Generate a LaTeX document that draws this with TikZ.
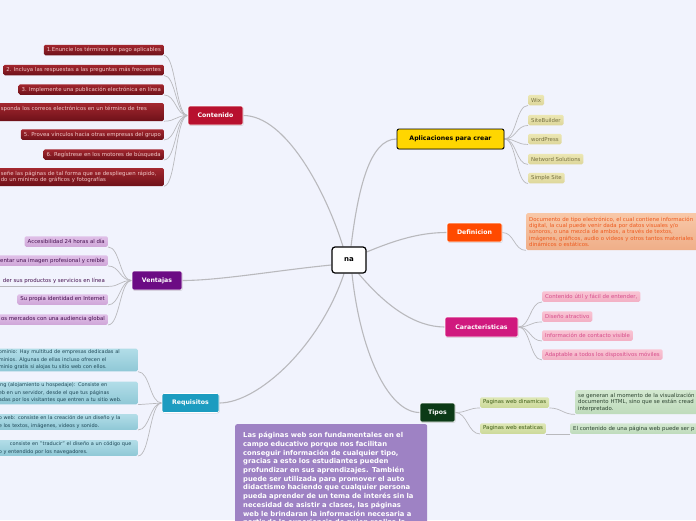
\documentclass[tikz,border=0pt]{standalone}
\usepackage{fontspec}
\setmainfont{DejaVu Sans}
\usetikzlibrary{shadows}
\pgfdeclarelayer{back}
\pgfdeclarelayer{links}
\pgfsetlayers{back,links,main}
\definecolor{mapbg}{HTML}{F1F3FD}
\definecolor{linkgray}{HTML}{B9B9BD}
\definecolor{contred}{HTML}{B8102E}
\definecolor{conttop}{HTML}{A3272F}
\definecolor{contbot}{HTML}{6E1119}
\definecolor{conttxt}{HTML}{F2C9C9}
\definecolor{ventpur}{HTML}{6C0C84}
\definecolor{venttop}{HTML}{E0C0E8}
\definecolor{ventbot}{HTML}{CFA6D8}
\definecolor{venttxt}{HTML}{45104F}
\definecolor{reqblue}{HTML}{1C9CC0}
\definecolor{reqtop}{HTML}{B2DDE8}
\definecolor{reqbot}{HTML}{8FC8D6}
\definecolor{reqtxt}{HTML}{1E4756}
\definecolor{aplyel}{HTML}{FFD600}
\definecolor{apltop}{HTML}{ECE7B4}
\definecolor{aplbot}{HTML}{DDD69A}
\definecolor{apltxt}{HTML}{777141}
\definecolor{deforg}{HTML}{FF4A00}
\definecolor{deftop}{HTML}{F8C8A8}
\definecolor{defbot}{HTML}{EFAE88}
\definecolor{deftxt}{HTML}{EE5A1E}
\definecolor{carmag}{HTML}{D0197E}
\definecolor{cartop}{HTML}{F9C4D4}
\definecolor{carbot}{HTML}{F2AFC4}
\definecolor{cartxt}{HTML}{D74E8C}
\definecolor{tipgrn}{HTML}{0C3A17}
\definecolor{tiptop}{HTML}{DEE7B6}
\definecolor{tipbot}{HTML}{CCD99A}
\definecolor{tiptxt}{HTML}{3D5C14}
\definecolor{subtop}{HTML}{D3E8D0}
\definecolor{subbot}{HTML}{BEDBBB}
\definecolor{subtxt}{HTML}{2C4330}
\definecolor{notepur}{HTML}{9E82C4}

\begin{document}
\begin{tikzpicture}[
  x=1pt, y=-1pt,
  line cap=round, line join=round,
  hub/.style   = {draw=black, line width=1.2pt, fill=white, rounded corners=3pt,
                  minimum width=34pt, minimum height=26pt, inner sep=1pt,
                  font=\bfseries\fontsize{7}{8}\selectfont},
  topic/.style = {rounded corners=2pt, draw=white, line width=0.6pt,
                  minimum height=19pt, inner xsep=4pt, inner ysep=1pt, text=white,
                  font=\bfseries\fontsize{6.2}{7}\selectfont,
                  drop shadow={shadow xshift=0.6pt, shadow yshift=-0.8pt, opacity=0.3}},
  leaf/.style  = {rounded corners=1.5pt, minimum height=10.5pt, inner xsep=3pt,
                  inner ysep=1.5pt, font=\fontsize{5.4}{6.4}\selectfont, align=left},
  cleaf/.style = {leaf, top color=conttop, bottom color=contbot, text=conttxt},
  vleaf/.style = {leaf, top color=venttop, bottom color=ventbot, text=venttxt},
  rleaf/.style = {leaf, top color=reqtop, bottom color=reqbot, text=reqtxt,
                  font=\fontsize{5}{7.5}\selectfont},
  aleaf/.style = {leaf, top color=apltop, bottom color=aplbot, text=apltxt},
  dleaf/.style = {leaf, top color=deftop, bottom color=defbot, text=deftxt},
  kleaf/.style = {leaf, top color=cartop, bottom color=carbot, text=cartxt},
  tleaf/.style = {leaf, top color=tiptop, bottom color=tipbot, text=tiptxt},
  sleaf/.style = {leaf, top color=subtop, bottom color=subbot, text=subtxt},
  note/.style  = {fill=notepur, rounded corners=2pt, text=white, align=left,
                  inner xsep=8pt, inner ysep=5pt,
                  font=\bfseries\fontsize{6.8}{8.7}\selectfont},
  link/.style  = {draw=linkgray, line width=1.1pt},
  twig/.style  = {draw=linkgray, line width=0.7pt}
]
\useasboundingbox (0,0) rectangle (696,520);
\begin{pgfonlayer}{back}
  \fill[mapbg] (0,0) rectangle (696,520);
\end{pgfonlayer}

% centro
\node[hub] (na) at (349,260) {na};

% ramas principales
\node[topic, fill=contred, minimum width=55pt] (cont) at (215.5,115.5) {Contenido};
\node[topic, fill=ventpur, minimum width=50pt] (vent) at (157,280.5) {Ventajas};
\node[topic, fill=reqblue, minimum width=57pt] (req)  at (190.5,403) {Requisitos};
\node[topic, fill=aplyel, draw=black, line width=0.9pt, text=black,
      minimum width=107pt, minimum height=20pt] (apl) at (450.5,139) {Aplicaciones para crear};
\node[topic, fill=deforg, minimum width=55pt] (defi) at (474.5,232.5) {Definicion};
\node[topic, fill=carmag, minimum width=73pt, minimum height=20pt] (car) at (481.5,327) {Caracteristicas};
\node[topic, fill=tipgrn, minimum width=35pt] (tipos) at (437.5,412.5) {Tipos};

% Contenido
\node[cleaf, anchor=east] (c1) at (164,50) {1.Enuncie los términos de pago aplicables};
\node[cleaf, anchor=east] (c2) at (164,70) {2. Incluya las respuestas a las preguntas más frecuentes};
\node[cleaf, anchor=east] (c3) at (164,89.5) {3. Implemente una publicación electrónica en línea};
\node[cleaf, anchor=east, text width=160pt, minimum height=18pt] (c4) at (164,112)
  {sponda los correos electrónicos en un término de tres\\~};
\node[cleaf, anchor=east] (c5) at (164,134.5) {5. Provea vínculos hacia otras empresas del grupo};
\node[cleaf, anchor=east] (c6) at (164,154.5) {6. Regístrese en los motores de búsqueda};
\node[cleaf, anchor=east, text width=160pt, minimum height=18pt] (c7) at (164,177)
  {señe las páginas de tal forma que se desplieguen rápido,\\do un mínimo de gráficos y fotografías};

% Ventajas
\node[vleaf, anchor=east] (v1) at (108,241.5) {Accesibilidad 24 horas al día};
\node[vleaf, anchor=east] (v2) at (108,260.5) {entar una imagen profesional y creíble};
\node[leaf, text=venttxt, anchor=east] (v3) at (108,281) {der sus productos y servicios en línea};
\node[vleaf, anchor=east] (v4) at (108,299.5) {Su propia identidad en Internet};
\node[vleaf, anchor=east] (v5) at (108,319.5) {os mercados con una audiencia global};

% Requisitos
\node[rleaf, anchor=east, text width=136pt] (r1) at (138,360)
  {ominio: Hay multitud de empresas dedicadas al\\minios. Algunas de ellas incluso ofrecen el\\minio gratis si alojas tu sitio web con ellos.};
\node[rleaf, anchor=east, text width=136pt] (r2) at (138,393)
  {ing (alojamiento u hospedaje): Consiste en\\eb en un servidor, desde el que tus páginas\\adas por los visitantes que entren a tu sitio web.};
\node[rleaf, anchor=east, text width=136pt] (r3) at (138,422)
  {o web: consiste en la creación de un diseño y la\\e los textos, imágenes, videos y sonido.};
\node[rleaf, anchor=east, text width=136pt] (r4) at (138,448)
  {\hspace*{11pt}consiste en "traducir" el diseño a un código que\\o y entendido por los navegadores.};

% Aplicaciones para crear
\node[aleaf, anchor=west] (a1) at (528,100) {Wix};
\node[aleaf, anchor=west] (a2) at (528,120) {SiteBuilder};
\node[aleaf, anchor=west] (a3) at (528,139) {wordPress};
\node[aleaf, anchor=west] (a4) at (528,159) {Netword Solutions};
\node[aleaf, anchor=west] (a5) at (528,178) {Simple Site};

% Definicion
\node[dleaf, anchor=north west, text width=178pt, minimum height=37pt] (dtext) at (526,213)
  {Documento de tipo electrónico, el cual contiene información\\digital, la cual puede venir dada por datos visuales y/o\\sonoros, o una mezcla de ambos, a través de textos,\\imágenes, gráficos, audio o videos y otros tantos materiales\\dinámicos o estáticos.};

% Caracteristicas
\node[kleaf, anchor=west] (k1) at (542,296.5) {Contenido útil y fácil de entender,};
\node[kleaf, anchor=west] (k2) at (542,316.5) {Diseño atractivo};
\node[kleaf, anchor=west] (k3) at (542,335.5) {Información de contacto visible};
\node[kleaf, anchor=west] (k4) at (542,354.5) {Adaptable a todos los dispositivos móviles};

% Tipos
\node[tleaf, anchor=west] (t1) at (480,402.5) {Paginas web dinamicas};
\node[tleaf, anchor=west] (t2) at (480,428.5) {Paginas web estaticas};
\node[sleaf, anchor=north west, text width=140pt, minimum height=24pt] (s1) at (575,390)
  {se generan al momento de la visualización\\documento HTML, sino que se están cread\\interpretado.};
\node[sleaf, anchor=west, text width=135pt] (s2) at (570,428.5) {El contenido de una página web puede ser p};

% nota
\node[note, anchor=north west, text width=176pt, minimum height=110pt] (nota) at (235,424)
  {Las páginas web son fundamentales en el\\campo educativo porque nos facilitan\\conseguir información de cualquier tipo,\\gracias a esto los estudiantes pueden\\profundizar en sus aprendizajes. También\\puede ser utilizada para promover el auto\\didactismo haciendo que cualquier persona\\pueda aprender de un tema de interés sin la\\necesidad de asistir a clases, las páginas\\web le brindaran la información necesaria a\\partir de la experiencia de quien realizo la};

\begin{pgfonlayer}{links}
% enlaces del centro
\draw[link] ([xshift=-6pt]na.north) .. controls +(-18,-57) and +(42,0) .. (cont.east);
\draw[link] ([xshift=2pt]na.north) .. controls +(7,-57) and +(-27,0) .. (apl.west);
\draw[link] ([yshift=8pt]na.east) .. controls +(29,-12) and +(-27,0) .. (defi.west);
\draw[link] ([yshift=-5pt]na.west) .. controls +(-52,5) and +(38,0) .. (vent.east);
\draw[link] ([xshift=-5pt]na.south) .. controls +(-24,72) and +(39,0) .. (req.east);
\draw[link] ([xshift=3pt]na.south) .. controls +(8,77) and +(-32,0) .. (tipos.west);
\draw[link] ([xshift=-8pt]na.south east) .. controls +(27,32) and +(-30,0) .. (car.west);

% ramas
\foreach \k in {c1,c2,c3,c4,c5,c6,c7}
  \draw[twig] (cont.west) .. controls +(-12,0) and +(12,0) .. (\k.south east);
\foreach \k in {v1,v2,v4,v5}
  \draw[twig] (vent.west) .. controls +(-12,0) and +(12,0) .. (\k.south east);
\draw[twig] (vent.west) .. controls +(-12,0) and +(12,0) .. (v3.south east) -- (v3.south west);
\foreach \k in {r1,r2,r3,r4}
  \draw[twig] (req.west) .. controls +(-12,0) and +(12,0) .. (\k.south east);
\foreach \k in {a1,a2,a3,a4,a5}
  \draw[twig] (apl.east) .. controls +(12,0) and +(-12,0) .. (\k.south west);
\draw[twig] (defi.east) .. controls +(12,0) and +(-12,0) .. (dtext.south west);
\foreach \k in {k1,k2,k3,k4}
  \draw[twig] (car.east) .. controls +(12,0) and +(-12,0) .. (\k.south west);
\foreach \k in {t1,t2}
  \draw[twig] (tipos.east) .. controls +(12,0) and +(-12,0) .. (\k.south west);
\draw[twig] (t1.south east) .. controls +(12,0) and +(-12,0) .. (s1.south west);
\draw[twig] (t2.south east) -- (s2.south west);
\end{pgfonlayer}

\end{tikzpicture}
\end{document}
